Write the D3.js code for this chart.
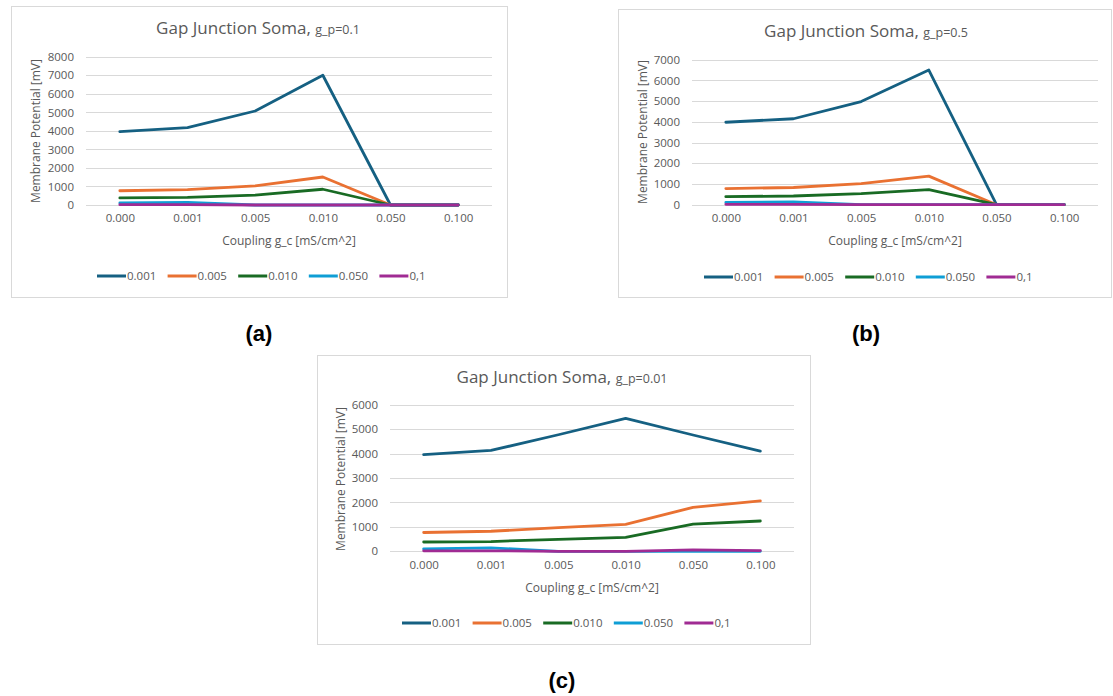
<!DOCTYPE html>
<html><head><meta charset="utf-8">
<script src="https://cdn.jsdelivr.net/npm/d3@7"></script>
<style>
body{margin:0;background:#fff;}
text{font-family:"Open Sans","Noto Sans",sans-serif;}
</style></head>
<body>
<svg id="c" width="1113" height="696"></svg>
<script>
// ---- data ----
const categories = ["0.000","0.001","0.005","0.010","0.050","0.100"];
const seriesNames = ["0.001","0.005","0.010","0.050","0,1"];
const seriesColors = ["#156082","#E97132","#196B24","#0F9ED5","#A02B93"];

// panel (a) g_p = 0.1
const a_s001 = [3960, 4170, 5070, 7000, 0, 0];
const a_s005 = [770, 830, 1030, 1510, 0, 0];
const a_s010 = [380, 410, 530, 850, 0, 0];
const a_s050 = [110, 140, 0, 0, 0, 0];
const a_s01  = [20, 20, 0, 0, 0, 0];
const a_ticks = [0,1000,2000,3000,4000,5000,6000,7000,8000];

// panel (b) g_p = 0.5
const b_s001 = [3980, 4150, 4980, 6500, 0, 0];
const b_s005 = [780, 830, 1020, 1380, 0, 0];
const b_s010 = [390, 420, 530, 730, 0, 0];
const b_s050 = [110, 140, 0, 0, 0, 0];
const b_s01  = [20, 20, 0, 0, 0, 0];
const b_ticks = [0,1000,2000,3000,4000,5000,6000,7000];

// panel (c) g_p = 0.01
const c_s001 = [3960, 4130, 4770, 5440, 4760, 4100];
const c_s005 = [770, 820, 970, 1100, 1800, 2060];
const c_s010 = [380, 400, 490, 570, 1110, 1240];
const c_s050 = [100, 140, 0, 0, 0, 0];
const c_s01  = [20, 20, 0, 0, 60, 30];
const c_ticks = [0,1000,2000,3000,4000,5000,6000];

// ---- layout ----
const panels = [
  {sub:"g_p=0.1", series:[a_s001,a_s005,a_s010,a_s050,a_s01], ticks:a_ticks,
   frame:[11.5,6.5,496,291], gx:[86,492], gy:[205,56.7], titleX:258, titleY:34,
   xlabY:225, xtitleY:245, xtitleX:289, ytitleX:40, ytitleY:131, legY:276, legX:97,
   tag:"(a)", tagX:259, tagY:341},
  {sub:"g_p=0.5", series:[b_s001,b_s005,b_s010,b_s050,b_s01], ticks:b_ticks,
   frame:[618.5,9.5,493,288], gx:[692,1098], gy:[204.7,59.7], titleX:866, titleY:37,
   xlabY:225, xtitleY:245, xtitleX:895, ytitleX:647, ytitleY:132, legY:277, legX:704,
   tag:"(b)", tagX:866, tagY:341},
  {sub:"g_p=0.01", series:[c_s001,c_s005,c_s010,c_s050,c_s01], ticks:c_ticks,
   frame:[317.5,355.5,493,289], gx:[390,794], gy:[551.3,404.7], titleX:562, titleY:383,
   xlabY:572, xtitleY:592, xtitleX:592, ytitleX:345, ytitleY:479, legY:623, legX:402,
   tag:"(c)", tagX:562, tagY:688}
];

const svg = d3.select("#c");
const gray = "#595959";

panels.forEach(p => {
  const g = svg.append("g");
  g.append("rect").attr("x",p.frame[0]).attr("y",p.frame[1])
    .attr("width",p.frame[2]).attr("height",p.frame[3])
    .attr("fill","#fff").attr("stroke","#d9d9d9").attr("stroke-width",1);

  const x = d3.scalePoint().domain(categories).range(p.gx).padding(0.5);
  const y = d3.scaleLinear().domain([0, d3.max(p.ticks)]).range(p.gy);

  // gridlines
  g.append("g").selectAll("line").data(p.ticks).join("line")
    .attr("x1",p.gx[0]).attr("x2",p.gx[1])
    .attr("y1",d=>Math.round(y(d))+0.5).attr("y2",d=>Math.round(y(d))+0.5)
    .attr("stroke","#d9d9d9").attr("stroke-width",1);

  // y axis labels
  const ya = d3.axisLeft(y).tickValues(p.ticks).tickSize(0).tickPadding(12).tickFormat(d3.format("d"));
  const yg = g.append("g").attr("transform",`translate(${p.gx[0]},0)`).call(ya);
  yg.select(".domain").remove();
  yg.selectAll("text").attr("fill",gray).style("font-size","11.5px");

  // x axis labels
  const xa = d3.axisBottom(x).tickSize(0).tickPadding(0);
  const xg = g.append("g").attr("transform",`translate(0,${p.xlabY-11})`).call(xa);
  xg.select(".domain").remove();
  xg.selectAll("text").attr("fill",gray).style("font-size","11.5px").attr("dy","0.71em");

  // lines
  const line = d3.line().x((d,i)=>x(categories[i])).y(d=>y(d));
  p.series.forEach((s,i)=>{
    g.append("path").datum(s).attr("d",line).attr("fill","none")
      .attr("stroke",seriesColors[i]).attr("stroke-width",2.8)
      .attr("stroke-linejoin","round").attr("stroke-linecap","round");
  });

  // title
  const t = g.append("text").attr("x",p.titleX).attr("y",p.titleY)
    .attr("text-anchor","middle").attr("fill",gray);
  t.append("tspan").text("Gap Junction Soma, ").style("font-size","17px");
  t.append("tspan").text(p.sub).style("font-size","12.5px");

  // axis titles
  g.append("text").attr("x",p.xtitleX).attr("y",p.xtitleY).attr("text-anchor","middle")
    .attr("fill",gray).style("font-size","12px").text("Coupling g_c [mS/cm^2]");
  g.append("text").attr("transform",`translate(${p.ytitleX},${p.ytitleY}) rotate(-90)`)
    .attr("text-anchor","middle").attr("fill",gray).style("font-size","12px")
    .text("Membrane Potential [mV]");

  // legend
  seriesNames.forEach((n,i)=>{
    const lx = p.legX + i*70.6;
    g.append("line").attr("x1",lx).attr("x2",lx+29).attr("y1",p.legY).attr("y2",p.legY)
      .attr("stroke",seriesColors[i]).attr("stroke-width",3);
    g.append("text").attr("x",lx+30).attr("y",p.legY+4).attr("fill",gray)
      .style("font-size","11.5px").text(n);
  });

  // panel tag
  svg.append("text").attr("x",p.tagX).attr("y",p.tagY).attr("text-anchor","middle")
    .attr("fill","#000").style("font-size","22px").style("font-weight","bold")
    .style("font-family","Liberation Sans, Arial, sans-serif").text(p.tag);
});
</script>
</body></html>
